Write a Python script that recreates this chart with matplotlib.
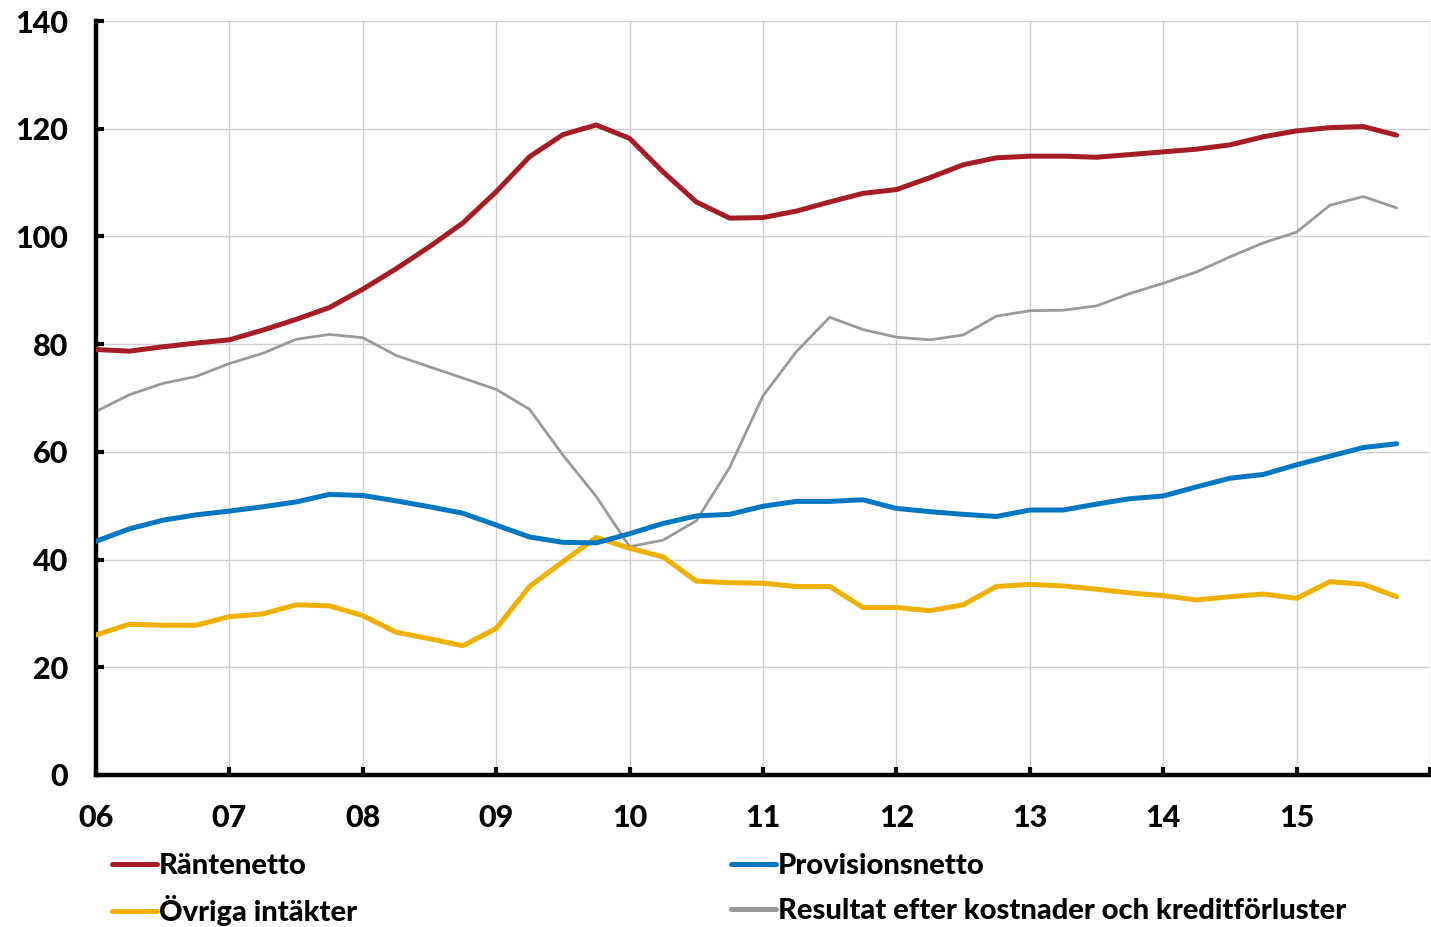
import numpy as np
import matplotlib
matplotlib.use("Agg")
import matplotlib.pyplot as plt

# Quarterly observations, 2006 Q1 - 2015 Q4
quarters = np.arange(2006, 2016, 0.25)

rantenetto = [79.0, 78.7, 79.5, 80.2, 80.8, 82.6, 84.6, 86.8,
              90.2, 94.0, 98.1, 102.5, 108.3, 114.8, 118.9, 120.7,
              118.2, 112.0, 106.4, 103.4, 103.5, 104.7, 106.4, 108.0,
              108.7, 110.9, 113.3, 114.6, 114.9, 114.9, 114.7, 115.2,
              115.7, 116.2, 117.0, 118.5, 119.6, 120.2, 120.4, 118.8]

provisionsnetto = [43.4, 45.7, 47.3, 48.3, 49.0, 49.8, 50.7, 52.1,
                   51.9, 50.9, 49.8, 48.6, 46.4, 44.2, 43.2, 43.1,
                   44.8, 46.7, 48.1, 48.4, 49.9, 50.8, 50.8, 51.1,
                   49.5, 48.9, 48.4, 48.0, 49.2, 49.2, 50.3, 51.3,
                   51.8, 53.5, 55.1, 55.8, 57.6, 59.2, 60.8, 61.5]

ovriga = [26.0, 28.0, 27.8, 27.8, 29.4, 29.9, 31.6, 31.4,
          29.6, 26.5, 25.3, 24.0, 27.2, 35.0, 39.6, 44.1,
          42.1, 40.5, 36.0, 35.7, 35.6, 35.0, 35.0, 31.1,
          31.1, 30.5, 31.6, 35.0, 35.4, 35.1, 34.5, 33.8,
          33.3, 32.5, 33.1, 33.6, 32.8, 35.9, 35.4, 33.1]

resultat = [67.5, 70.6, 72.7, 74.0, 76.4, 78.3, 80.9, 81.8,
            81.2, 77.9, 75.8, 73.7, 71.6, 67.9, 59.4, 51.7,
            42.4, 43.6, 47.2, 57.1, 70.4, 78.6, 85.0, 82.7,
            81.3, 80.8, 81.7, 85.2, 86.2, 86.3, 87.1, 89.4,
            91.3, 93.4, 96.2, 98.8, 100.8, 105.8, 107.4, 105.3]

series_names = ["Räntenetto", "Provisionsnetto", "Övriga intäkter",
                "Resultat efter kostnader och kreditförluster"]

year_ticks = list(range(2006, 2017))
year_labels = ["06", "07", "08", "09", "10", "11", "12", "13", "14", "15", ""]
y_ticks = [0, 20, 40, 60, 80, 100, 120, 140]

plt.rcParams["font.family"] = ["Lato", "DejaVu Sans"]
FS = 21
TICK_FS = 22
WEIGHT = "black"

W, H = 1431, 927
fig = plt.figure(figsize=(W / 100, H / 100), dpi=100)
ax = fig.add_axes([96 / W, 1 - 775 / H, (1430 - 96) / W, (775 - 21) / H])

red, blue, yellow, grey = "#A51C24", "#0077C0", "#F0B000", "#999B9B"

l1, = ax.plot(quarters, rantenetto, color=red, lw=3.6, solid_capstyle="round", zorder=4)
l3, = ax.plot(quarters, ovriga, color=yellow, lw=3.6, solid_capstyle="round", zorder=3)
l2, = ax.plot(quarters, provisionsnetto, color=blue, lw=3.6, solid_capstyle="round", zorder=3)
l4, = ax.plot(quarters, resultat, color=grey, lw=2.0, solid_capstyle="round", zorder=2)

ax.set_xlim(2006, 2016)
ax.set_ylim(0, 140)
ax.set_xticks(year_ticks)
ax.set_xticklabels(year_labels)
ax.set_yticks(y_ticks)

ax.grid(True, color="#CFCFCF", lw=1.0)
ax.set_axisbelow(True)
for side in ("top", "right"):
    ax.spines[side].set_visible(False)
for side in ("left", "bottom"):
    ax.spines[side].set_linewidth(3.2)
    ax.spines[side].set_color("black")

ax.tick_params(axis="both", direction="in", length=6, width=3, color="black",
               labelsize=TICK_FS)
ax.tick_params(axis="x", pad=21)
ax.tick_params(axis="y", pad=20)
for lab in ax.get_xticklabels() + ax.get_yticklabels():
    lab.set_fontweight(WEIGHT)

# One legend entry per slot so that rows line up across the two columns
leg_kw = dict(loc="center left", frameon=False, handlelength=1.55,
              handletextpad=0.06, borderpad=0, borderaxespad=0,
              prop={"weight": WEIGHT, "size": FS})
slots = [(l1, series_names[0], 112, 866),
         (l2, series_names[1], 731, 866),
         (l3, series_names[2], 112, 911),
         (l4, series_names[3], 731, 911)]
for handle, name, px, py in slots:
    lg = fig.legend([handle], [name], bbox_to_anchor=(px / W, 1 - py / H), **leg_kw)
    for h in lg.legend_handles:
        h.set_linewidth(3.6)
        h.set_solid_capstyle("round")

fig.savefig("out.png", dpi=100)
